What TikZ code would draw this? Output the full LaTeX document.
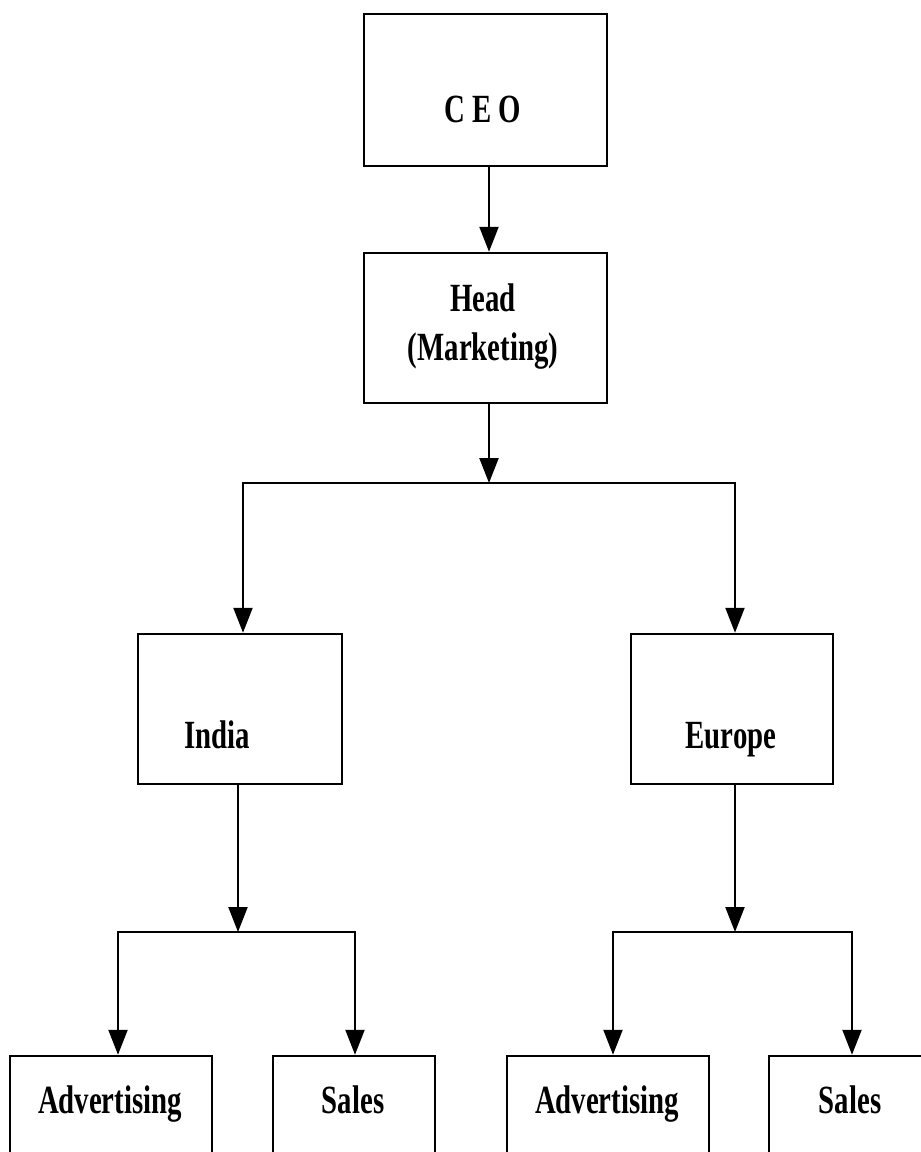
\documentclass[tikz,border=0pt]{standalone}
\usepackage{fontspec}
\setmainfont{Liberation Serif}[FakeStretch=0.72]
\usetikzlibrary{arrows.meta}
\begin{document}
\begin{tikzpicture}[x=1pt,y=-1pt,
  box/.style={draw=black, line width=2.5pt, rectangle, inner sep=0pt, minimum height=150pt},
  lbl/.style={font=\fontsize{40}{48}\selectfont\bfseries, inner sep=0pt, anchor=base},
  arr/.style={draw=black, line width=2.2pt, -{Triangle[width=19pt,length=25pt]}},
  wire/.style={draw=black, line width=2.2pt}]
\clip (0,0) rectangle (921,1152);
\fill[white] (0,0) rectangle (921,1152);

% boxes
\node[box, minimum width=243pt, minimum height=152pt] (ceo) at (485.5,90) {};
\node[box, minimum width=243pt] (head) at (485.5,328) {};
\node[box, minimum width=204pt] (india) at (240,709) {};
\node[box, minimum width=202pt] (europe) at (732,709) {};
\node[box, minimum width=202pt] (adv1) at (111,1131) {};
\node[box, minimum width=162pt] (sales1) at (354,1131) {};
\node[box, minimum width=202pt] (adv2) at (608,1131) {};
\node[box, minimum width=166pt] (sales2) at (852,1131) {};

% labels
\node[lbl] (tceo) at (483,122) {C E O};
\node[lbl] (thead) at (483,311) {Head};
\node[lbl] (tmkt) at (483,360) {(Marketing)};
\node[lbl] (tindia) at (217,748) {India};
\node[lbl] (teurope) at (731,748) {Europe};
\node[lbl] (tadv1) at (110,1113) {Advertising};
\node[lbl] (tsales1) at (353,1113) {Sales};
\node[lbl] (tadv2) at (607,1113) {Advertising};
\node[lbl] (tsales2) at (850,1113) {Sales};

% junction points
\coordinate (j1) at (489,483);
\coordinate (j2) at (238,932);
\coordinate (j3) at (735,932);

% connectors
\draw[arr] (ceo.south -| j1) -- (head.north -| j1);
\draw[arr] (head.south -| j1) -- (j1);
\draw[arr] (j1) -| ([xshift=3pt]india.north);
\draw[arr] (j1) -| ([xshift=3pt]europe.north);
\draw[arr] (india.south -| j2) -- (j2);
\draw[arr] (j2) -| ([xshift=7pt]adv1.north);
\draw[arr] (j2) -| ([xshift=1pt]sales1.north);
\draw[arr] (europe.south -| j3) -- (j3);
\draw[arr] (j3) -| ([xshift=5pt]adv2.north);
\draw[arr] (j3) -| (sales2.north);
\end{tikzpicture}
\end{document}
